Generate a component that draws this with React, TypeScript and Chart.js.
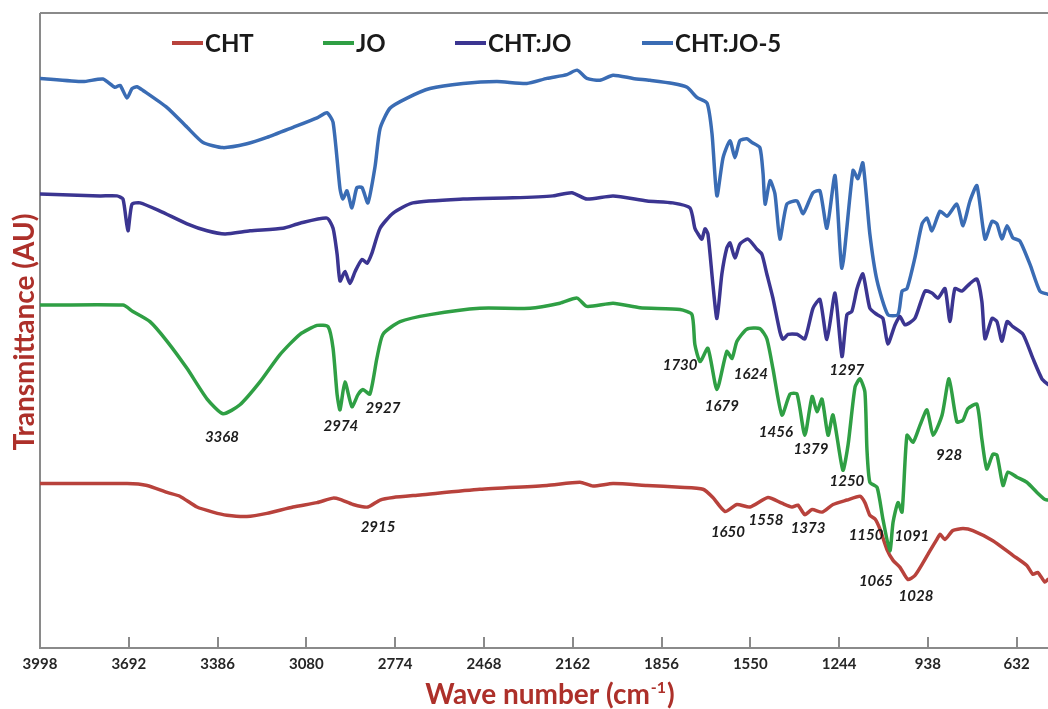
import React, { useEffect, useRef } from 'react';
import { Chart, registerables } from 'chart.js';

Chart.register(...registerables);

// ---- data ----
const tickValues = [3998, 3692, 3386, 3080, 2774, 2468, 2162, 1856, 1550, 1244, 938, 632];
const seriesLabels = ['CHT', 'JO', 'CHT:JO', 'CHT:JO-5'];
const seriesColors = ['#b8423c', '#2f9f44', '#3b3591', '#3a6cb4'];

const chtWn = [3998, 3698, 3629, 3560, 3516, 3457, 3402, 3354, 3285, 3216, 3126, 3043, 2988, 2964, 2919, 2868, 2826, 2781, 2688, 2482, 2251, 2137, 2092, 2023, 1906, 1792, 1713, 1679, 1637, 1596, 1551, 1489, 1441, 1406, 1386, 1362, 1337, 1303, 1265, 1217, 1172, 1155, 1138, 1120, 1103, 1079, 1058, 1034, 1007, 983, 955, 931, 907, 896, 879, 852, 817, 783, 714, 645, 597, 576, 559, 535, 524];
const chtT = [25.9, 25.9, 25.6, 24.5, 23.9, 22.2, 21.4, 20.9, 20.7, 21.2, 22.2, 22.9, 23.6, 23.4, 22.6, 22.2, 23.3, 23.7, 24.1, 25.0, 25.6, 26.1, 25.5, 25.9, 25.6, 25.3, 25.0, 23.7, 21.5, 22.6, 22.2, 23.7, 22.8, 22.2, 22.5, 21.0, 21.8, 21.4, 22.6, 23.3, 23.9, 22.9, 20.9, 20.3, 18.7, 15.5, 13.8, 12.7, 10.8, 11.4, 13.4, 15.3, 17.1, 17.9, 17.1, 18.5, 18.8, 18.5, 16.9, 14.6, 13.0, 11.6, 11.9, 10.4, 10.8];

const joWn = [3998, 3712, 3678, 3619, 3560, 3491, 3422, 3367, 3309, 3240, 3171, 3102, 3043, 3005, 2988, 2974, 2964, 2947, 2923, 2902, 2885, 2861, 2837, 2816, 2757, 2654, 2482, 2309, 2206, 2147, 2113, 2023, 1930, 1792, 1751, 1741, 1723, 1696, 1665, 1631, 1613, 1596, 1562, 1517, 1493, 1472, 1441, 1413, 1389, 1362, 1337, 1320, 1303, 1282, 1265, 1231, 1213, 1189, 1172, 1155, 1148, 1138, 1113, 1093, 1069, 1058, 1041, 1027, 1010, 989, 965, 941, 920, 889, 865, 838, 817, 800, 769, 752, 735, 714, 700, 679, 662, 631, 597, 562, 535, 524];
const joT = [54.0, 54.0, 53.0, 51.4, 48.3, 44.0, 39.2, 36.9, 38.3, 41.9, 46.2, 49.4, 50.8, 50.6, 47.2, 39.9, 37.5, 41.9, 38.0, 39.9, 40.7, 40.0, 45.6, 49.4, 51.4, 52.5, 53.5, 53.5, 54.3, 55.1, 53.8, 54.3, 53.6, 53.3, 52.5, 47.8, 45.1, 47.2, 40.7, 46.7, 45.6, 48.3, 50.2, 50.3, 48.7, 44.0, 36.7, 40.0, 40.0, 33.5, 39.6, 37.2, 39.2, 33.5, 36.7, 28.0, 32.0, 41.1, 42.4, 40.3, 31.3, 26.1, 25.3, 20.3, 15.3, 19.8, 22.9, 21.4, 33.5, 32.4, 35.1, 37.5, 33.5, 36.7, 42.4, 35.6, 35.9, 37.7, 38.4, 32.9, 28.2, 30.5, 30.4, 25.6, 27.7, 26.9, 26.1, 24.5, 23.4, 23.3];

const chtJoWn = [3998, 3791, 3733, 3712, 3695, 3681, 3653, 3584, 3491, 3422, 3360, 3274, 3161, 3102, 3009, 2988, 2974, 2964, 2947, 2930, 2912, 2888, 2871, 2854, 2826, 2781, 2713, 2540, 2368, 2230, 2165, 2113, 2023, 1906, 1817, 1758, 1741, 1730, 1717, 1706, 1696, 1679, 1665, 1648, 1631, 1620, 1603, 1586, 1558, 1527, 1510, 1493, 1472, 1448, 1437, 1420, 1389, 1362, 1334, 1310, 1286, 1258, 1234, 1217, 1200, 1182, 1162, 1138, 1113, 1093, 1076, 1051, 1034, 1017, 983, 948, 924, 903, 879, 862, 845, 821, 793, 769, 752, 741, 717, 700, 683, 665, 645, 610, 576, 545, 524];
const chtJoT = [71.5, 71.2, 71.2, 70.7, 65.7, 69.9, 70.1, 68.8, 66.8, 65.7, 65.2, 65.7, 66.1, 66.9, 67.7, 66.1, 62.0, 57.8, 59.3, 57.4, 59.3, 61.2, 60.6, 62.2, 66.1, 68.5, 70.1, 70.7, 70.9, 71.2, 71.7, 70.7, 71.2, 70.4, 70.1, 69.3, 66.1, 65.2, 64.4, 66.0, 65.2, 57.3, 51.9, 58.9, 63.0, 63.8, 61.4, 63.6, 64.4, 62.8, 62.0, 58.9, 55.1, 49.8, 48.6, 49.4, 49.4, 48.7, 53.5, 54.9, 48.6, 55.9, 45.9, 52.5, 53.0, 56.6, 58.9, 53.5, 52.5, 51.9, 47.9, 50.9, 52.2, 50.9, 51.9, 56.2, 55.9, 55.1, 56.6, 51.4, 56.6, 56.2, 57.4, 58.1, 54.6, 48.7, 51.9, 51.4, 48.3, 51.4, 50.6, 49.4, 45.6, 42.4, 41.5];

const chtJo5Wn = [3998, 3850, 3781, 3740, 3722, 3698, 3681, 3664, 3643, 3560, 3491, 3436, 3367, 3285, 3216, 3126, 3043, 3009, 2988, 2964, 2954, 2940, 2923, 2906, 2888, 2868, 2843, 2826, 2792, 2733, 2654, 2540, 2423, 2320, 2251, 2182, 2147, 2113, 2068, 2023, 1954, 1896, 1817, 1768, 1734, 1699, 1682, 1665, 1644, 1620, 1603, 1586, 1562, 1544, 1517, 1506, 1499, 1482, 1465, 1448, 1424, 1389, 1368, 1334, 1310, 1286, 1258, 1234, 1196, 1179, 1162, 1138, 1113, 1076, 1041, 1027, 1010, 983, 958, 941, 924, 896, 872, 838, 817, 793, 769, 741, 717, 700, 683, 665, 645, 621, 586, 552, 524];
const chtJo5T = [89.7, 89.2, 89.6, 88.3, 88.6, 86.6, 88.1, 88.4, 87.8, 85.1, 82.0, 79.6, 78.8, 79.4, 80.4, 82.0, 83.5, 84.3, 82.8, 72.3, 70.7, 72.0, 69.3, 72.5, 72.5, 70.1, 75.9, 81.8, 85.0, 86.6, 88.1, 88.9, 89.2, 88.9, 89.7, 90.3, 91.0, 89.7, 89.4, 90.2, 89.7, 89.4, 88.9, 88.3, 86.7, 85.8, 81.0, 71.2, 77.2, 79.9, 77.2, 79.9, 80.2, 79.6, 78.8, 74.7, 69.9, 73.6, 71.5, 64.4, 69.9, 70.4, 68.4, 71.7, 72.0, 66.1, 74.4, 59.8, 75.2, 73.9, 76.4, 65.2, 57.8, 52.5, 52.5, 56.2, 56.6, 61.4, 66.8, 67.7, 65.7, 68.8, 68.0, 69.9, 66.5, 70.4, 72.8, 64.4, 67.2, 66.8, 64.4, 66.5, 64.6, 64.1, 60.4, 56.2, 55.7];

// peak annotations: label text, anchor wavenumber, anchor transmittance
const peakTexts = ['3368', '2974', '2927', '2915', '1730', '1679', '1624', '1297', '1456', '1379', '928', '1250', '1650', '1558', '1373', '1150', '1091', '1065', '1028'];
const peakWn = [3371, 2961, 2816, 2833, 1792, 1648, 1548, 1217, 1462, 1341, 865, 1217, 1627, 1496, 1351, 1151, 993, 1117, 979];
const peakT = [33.2, 35.0, 37.8, 19.1, 44.5, 38.1, 43.2, 43.7, 34.0, 31.3, 30.4, 26.3, 18.2, 20.1, 18.8, 17.7, 17.6, 10.6, 8.2];

const xTitle = 'Wave number (cm';
const xTitleSup = '-1';
const yTitle = 'Transmittance (AU)';

const FONT = 'Lato, "Open Sans", sans-serif';
const TITLE_COLOR = '#ad302a';
const AXIS_COLOR = '#8a8a8a';

const decorPlugin = {
  id: 'decor',
  beforeDatasetsDraw(chart: any) {
    const { ctx, chartArea } = chart;
    const xs = chart.scales.x;
    ctx.save();
    ctx.strokeStyle = AXIS_COLOR;
    ctx.lineWidth = 2;
    ctx.beginPath();
    ctx.moveTo(chartArea.left, chartArea.top);
    ctx.lineTo(chartArea.right, chartArea.top);
    ctx.moveTo(chartArea.left, chartArea.top);
    ctx.lineTo(chartArea.left, chartArea.bottom);
    ctx.lineTo(chartArea.right, chartArea.bottom);
    tickValues.forEach((v) => {
      const px = Math.round(xs.getPixelForValue(v));
      ctx.moveTo(px, chartArea.bottom);
      ctx.lineTo(px, chartArea.bottom - 11);
    });
    ctx.stroke();
    ctx.restore();
  },
  afterDraw(chart: any) {
    const { ctx, chartArea } = chart;
    const xs = chart.scales.x;
    const ys = chart.scales.y;
    ctx.save();
    // peak labels
    ctx.fillStyle = '#1c1c1c';
    ctx.font = `italic bold 15px ${FONT}`;
    ctx.textAlign = 'center';
    ctx.textBaseline = 'middle';
    peakTexts.forEach((t, i) => {
      ctx.fillText(t, xs.getPixelForValue(peakWn[i]), ys.getPixelForValue(peakT[i]));
    });
    // legend
    const legendX = [172, 323, 455, 642];
    const ly = chartArea.top + 30;
    chart.data.datasets.forEach((ds: any) => {
      const lx = legendX[seriesLabels.indexOf(ds.label)];
      ctx.strokeStyle = ds.borderColor;
      ctx.lineWidth = 4;
      ctx.beginPath();
      ctx.moveTo(lx, ly);
      ctx.lineTo(lx + 31, ly);
      ctx.stroke();
      ctx.fillStyle = '#1a1a1a';
      ctx.font = `bold 24px ${FONT}`;
      ctx.textAlign = 'left';
      ctx.textBaseline = 'middle';
      ctx.fillText(ds.label, lx + 33, ly + 1);
    });
    // x title
    ctx.fillStyle = TITLE_COLOR;
    const big = `bold 28px ${FONT}`;
    const small = `bold 16px ${FONT}`;
    ctx.textBaseline = 'alphabetic';
    ctx.textAlign = 'left';
    ctx.font = big;
    const w1 = ctx.measureText(xTitle).width;
    ctx.font = small;
    const w2 = ctx.measureText(xTitleSup).width;
    ctx.font = big;
    const w3 = ctx.measureText(')').width;
    const cx = 549;
    const startX = cx - (w1 + w2 + w3) / 2;
    const base = 704;
    ctx.fillText(xTitle, startX, base);
    ctx.font = small;
    ctx.fillText(xTitleSup, startX + w1 + 1, base - 11);
    ctx.font = big;
    ctx.fillText(')', startX + w1 + w2 + 2, base);
    // y title
    ctx.translate(34, 332);
    ctx.rotate(-Math.PI / 2);
    ctx.textAlign = 'center';
    ctx.fillText(yTitle, 0, 0);
    ctx.restore();
  },
};

export default function App() {
  const ref = useRef<HTMLCanvasElement | null>(null);
  useEffect(() => {
    if (!ref.current) return;
    const mk = (wn: number[], t: number[]) => wn.map((x, i) => ({ x, y: t[i] }));
    const series = [
      mk(chtWn, chtT),
      mk(joWn, joT),
      mk(chtJoWn, chtJoT),
      mk(chtJo5Wn, chtJo5T),
    ];
    const orders = [1, 0, 2, 3];
    const chart = new Chart(ref.current, {
      type: 'line',
      data: {
        datasets: series.map((d, i) => ({
          label: seriesLabels[i],
          data: d,
          borderColor: seriesColors[i],
          backgroundColor: seriesColors[i],
          borderWidth: 3.5,
          pointRadius: 0,
          tension: 0.2,
          fill: false,
          order: orders[i],
          borderJoinStyle: 'round',
          borderCapStyle: 'round',
        })),
      },
      options: {
        animation: false,
        responsive: false,
        layout: { padding: { left: 40, top: 13, right: 0, bottom: 29 } },
        plugins: { legend: { display: false }, tooltip: { enabled: false }, title: { display: false } },
        scales: {
          x: {
            type: 'linear',
            reverse: true,
            min: 524,
            max: 3998,
            afterBuildTicks: (s: any) => {
              s.ticks = tickValues.map((v) => ({ value: v }));
            },
            ticks: {
              autoSkip: false,
              maxRotation: 0,
              padding: 7,
              color: '#262626',
              font: { family: FONT, size: 15, weight: 'bold' },
              callback: (v: any) => String(v),
            },
            grid: { display: false, drawTicks: false },
            border: { display: false },
          },
          y: {
            display: false,
            min: 0,
            max: 100,
          },
        },
      },
      plugins: [decorPlugin],
    } as any);
    return () => chart.destroy();
  }, []);
  return (
    <div style={{ position: 'fixed', left: 0, top: 0, width: 1048, height: 709, background: '#fff' }}>
      <canvas ref={ref} width={1048} height={709} style={{ display: 'block' }} />
    </div>
  );
}
